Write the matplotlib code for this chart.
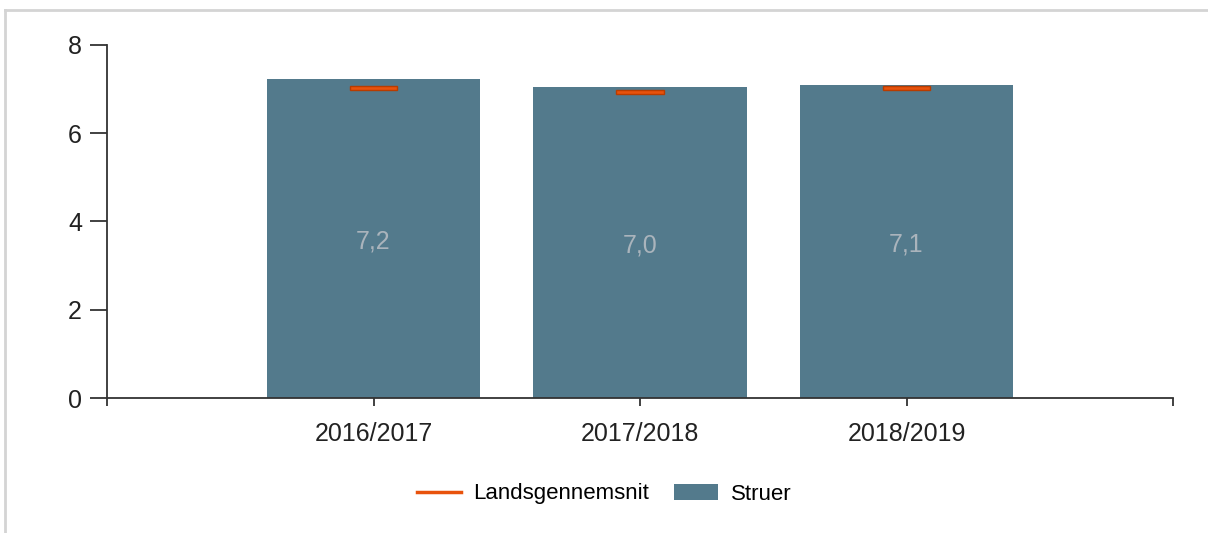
import matplotlib
matplotlib.use("Agg")
import matplotlib.pyplot as plt
from matplotlib.lines import Line2D

plt.rcParams['font.family'] = ['Liberation Sans', 'DejaVu Sans']

# data
seasons = ["2016/2017", "2017/2018", "2018/2019"]
struer = [7.23, 7.05, 7.10]
struer_labels = ["7,2", "7,0", "7,1"]
national_avg = [7.03, 6.94, 7.03]
series_names = ["Landsgennemsnit", "Struer"]

bar_color = "#537a8c"
avg_color = "#e8520c"
avg_edge = "#b83c00"
label_color = "#aab4bc"
axis_color = "#333333"

W, H = 1208, 533
fig = plt.figure(figsize=(W / 100, H / 100), dpi=100)
ax = fig.add_axes([107 / W, (H - 398) / H, (1173 - 107) / W, (398 - 45) / H])

x = [i + 1 for i in range(len(seasons))]
ax.bar(x, struer, width=0.8, color=bar_color, zorder=2)

# national average drawn as a short thick marker inside each bar
mark_h = 0.1
ax.bar(x, [mark_h] * len(x), bottom=[v - mark_h / 2 for v in national_avg],
       width=0.18, color=avg_color, edgecolor=avg_edge, linewidth=1.0, zorder=3)

for xi, v, lab in zip(x, struer, struer_labels):
    ax.text(xi, v / 2 - 0.06, lab, ha="center", va="center", fontsize=18,
            color=label_color, zorder=4)

ax.set_xlim(0, 4)
ax.set_ylim(0, 8)
ax.set_yticks([0, 2, 4, 6, 8])
ax.set_xticks([0, 1, 2, 3, 4])
ax.set_xticklabels([""] + seasons + [""])

for s in ["top", "right"]:
    ax.spines[s].set_visible(False)
for s in ["left", "bottom"]:
    ax.spines[s].set_color(axis_color)
    ax.spines[s].set_linewidth(1.3)

ax.tick_params(axis="y", length=12, width=1.3, color=axis_color, pad=6,
               labelsize=18, labelcolor="#222222")
ax.tick_params(axis="x", length=6, width=1.3, color=axis_color, pad=11,
               labelsize=18, labelcolor="#222222")

handles = [
    Line2D([0], [0], color=avg_color, linewidth=2.5),
    plt.Rectangle((0, 0), 1, 1, facecolor=bar_color),
]
fig.legend(handles, series_names, loc="center",
           bbox_to_anchor=(0.5, (H - 494) / H), ncol=2, frameon=False,
           fontsize=16, handlelength=2.0, handleheight=0.7,
           handletextpad=0.55, columnspacing=1.1)

# light grey frame at top and left edge
fig.add_artist(Line2D([5 / W, 1], [(H - 10) / H] * 2, color="#d4d4d4",
                      linewidth=2, transform=fig.transFigure))
fig.add_artist(Line2D([5 / W] * 2, [0, (H - 10) / H], color="#d4d4d4",
                      linewidth=2, transform=fig.transFigure))

fig.savefig("out.png", dpi=100)
